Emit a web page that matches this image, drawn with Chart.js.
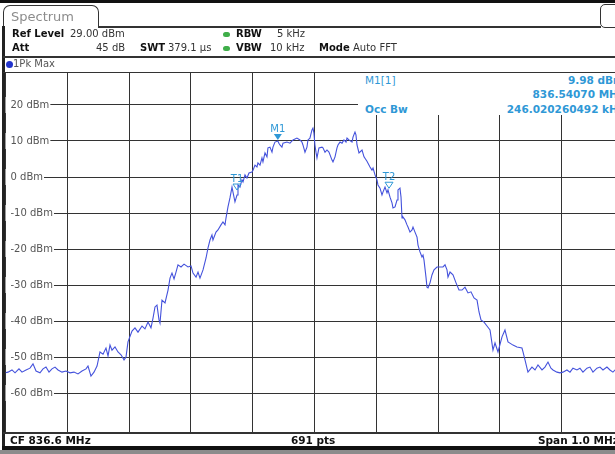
<!DOCTYPE html>
<html>
<head>
<meta charset="utf-8">
<title>Spectrum</title>
<script src="https://cdn.jsdelivr.net/npm/chart.js@4.4.1/dist/chart.umd.min.js"></script>
<style>
  body { margin: 0; overflow: hidden; background: #fff; font-family: "DejaVu Sans", sans-serif; }
  #screen { position: relative; width: 630px; height: 454px; }
  #spectrumChart { position: absolute; left: 0; top: 0; }
  .abs { position: absolute; white-space: nowrap; }
  .txt { font-size: 10px; color: #333; line-height: 12px; }
  .b { font-weight: bold; color: #111; }
  .dot { position: absolute; width: 7px; height: 5px; border-radius: 3px; background: #3fae49; }
  .cy { color: #2f98d6; font-size: 10.5px; line-height: 12px; font-weight: bold; }
</style>
</head>
<body>
<div id="screen">
  <canvas id="spectrumChart"></canvas>

  <!-- window frame -->
  <div class="abs" style="left:0;top:0;width:630px;height:3px;background:#111"></div>
  <div class="abs" style="left:3px;top:5px;width:94px;height:22px;border:1.5px solid #333;border-bottom:none;border-radius:7px 7px 0 0;background:#fff"></div>
  <div class="abs" style="left:11px;top:9px;font-size:13px;color:#8c8c8c">Spectrum</div>
  <div class="abs" style="left:98px;top:26px;width:503px;height:1.5px;background:#333"></div>
  <div class="abs" style="left:600px;top:4px;width:24px;height:22px;border:1.5px solid #333;border-radius:5px;background:#fff"></div>
  <div class="abs" style="left:2px;top:26px;width:2.5px;height:422px;background:#222"></div>

  <!-- settings -->
  <div class="abs txt b" style="left:12px;top:28px">Ref Level</div>
  <div class="abs txt" style="left:70px;top:28px">29.00 dBm</div>
  <div class="dot" style="left:223px;top:32px"></div>
  <div class="abs txt b" style="left:236px;top:28px">RBW</div>
  <div class="abs txt" style="left:277px;top:28px">5 kHz</div>

  <div class="abs txt b" style="left:12px;top:42px">Att</div>
  <div class="abs txt" style="left:96px;top:42px">45 dB</div>
  <div class="abs txt b" style="left:140px;top:42px">SWT</div>
  <div class="abs txt" style="left:168px;top:42px">379.1 µs</div>
  <div class="dot" style="left:223px;top:46px"></div>
  <div class="abs txt b" style="left:236px;top:42px">VBW</div>
  <div class="abs txt" style="left:270px;top:42px">10 kHz</div>
  <div class="abs txt b" style="left:319px;top:42px">Mode</div>
  <div class="abs txt" style="left:353px;top:42px">Auto FFT</div>

  <div class="abs" style="left:3px;top:56px;width:627px;height:1.5px;background:#333"></div>
  <div class="abs" style="left:6px;top:61px;width:7px;height:7px;border-radius:4px;background:#2233cc"></div>
  <div class="abs" style="left:13px;top:58px;font-size:10px;line-height:12px;color:#555">1Pk Max</div>
  <div class="abs" style="left:3px;top:72px;width:627px;height:1px;background:#333"></div>

  <!-- marker readout -->
  <div class="abs" style="left:358px;top:73px;width:272px;height:42px;background:#fff"></div>
  <div class="abs cy" style="left:365px;top:74px;font-weight:normal">M1[1]</div>
  <div class="abs cy" style="right:6px;top:74px">9.98 dBm</div>
  <div class="abs cy" style="right:6px;top:88px">836.54070 MHz</div>
  <div class="abs cy" style="left:365px;top:103px">Occ Bw</div>
  <div class="abs cy" style="right:6px;top:103px">246.020260492 kHz</div>

  <!-- footer -->
  <div class="abs" style="left:3px;top:432px;width:627px;height:1.5px;background:#333"></div>
  <div class="abs txt b" style="left:10px;top:434px;font-size:10.5px">CF 836.6 MHz</div>
  <div class="abs txt b" style="left:291px;top:434px;font-size:10.5px">691 pts</div>
  <div class="abs txt b" style="left:538px;top:434px;font-size:10.5px">Span 1.0 MHz</div>
  <div class="abs" style="left:2px;top:446px;width:628px;height:4px;background:#111"></div>
  <div class="abs" style="left:0;top:450px;width:630px;height:4px;background:#8c8c8c"></div>
</div>

<script>
// trace: frequency offset from CF (kHz) and peak level (dBm)
const freqOffsetKHz = [
  -500.0, -496.0, -489.5, -484.6, -478.2, -473.3, -466.8, -460.4, -455.5, -450.6,
  -444.2, -439.3, -434.5, -429.6, -424.8, -419.9, -415.0, -408.6, -402.1, -395.6,
  -389.2, -382.7, -376.2, -369.7, -366.5, -361.7, -356.8, -351.9, -347.1, -342.2,
  -337.4, -334.1, -330.9, -327.7, -322.8, -318.0, -313.1, -308.2, -305.0, -301.8,
  -295.3, -290.5, -285.6, -279.1, -274.3, -269.4, -264.6, -261.3, -258.1, -254.9,
  -251.6, -250.0, -246.8, -241.9, -237.0, -233.8, -230.6, -227.3, -224.1, -220.9,
  -216.0, -211.1, -204.7, -199.8, -196.6, -191.7, -188.5, -185.3, -180.4, -175.5,
  -172.3, -169.1, -165.9, -164.3, -159.4, -156.2, -151.3, -148.1, -144.8, -143.2,
  -140.0, -136.8, -133.5, -131.9, -128.7, -125.4, -123.8, -120.6, -117.4, -115.7,
  -112.5, -109.3, -106.0, -101.2, -99.5, -96.3, -93.1, -91.5, -88.2, -85.0,
  -83.4, -80.1, -76.9, -75.3, -72.1, -68.8, -67.2, -64.0, -59.3, -57.6,
  -55.9, -52.7, -51.0, -44.6, -39.7, -34.8, -28.4, -23.5, -20.3, -18.7,
  -15.4, -12.2, -10.6, -7.4, -4.1, -2.5, -0.9, 0.7, 2.4, 4.0,
  7.2, 12.1, 13.7, 17.0, 20.2, 23.4, 28.3, 29.9, 33.2, 36.4,
  38.0, 41.3, 44.5, 47.7, 51.0, 52.6, 55.8, 60.7, 62.3, 65.5,
  67.1, 68.8, 72.0, 76.9, 80.1, 84.9, 89.8, 93.0, 94.7, 97.9,
  101.1, 102.7, 106.0, 109.2, 110.8, 114.1, 117.3, 118.9, 122.2, 125.4,
  127.0, 130.3, 133.5, 135.1, 138.3, 140.0, 141.6, 143.2, 146.4, 149.7,
  151.3, 154.5, 157.8, 159.4, 162.6, 165.9, 167.5, 170.7, 173.9, 175.6,
  177.2, 180.4, 182.0, 183.7, 186.9, 190.1, 193.4, 198.2, 203.1, 207.9,
  211.2, 214.4, 216.0, 219.3, 224.1, 229.0, 233.8, 238.7, 243.5, 248.4,
  253.2, 258.1, 263.0, 266.2, 269.4, 274.3, 279.1, 284.0, 288.8, 292.1,
  296.9, 303.4, 308.2, 313.1, 321.2, 327.6, 335.7, 337.4, 340.6, 343.8,
  345.4, 351.9, 356.8, 361.6, 368.1, 372.9, 377.8, 382.6, 385.9, 392.3,
  397.2, 402.0, 408.5, 413.4, 418.2, 424.7, 429.5, 434.4, 440.9, 445.7,
  450.6, 457.0, 461.9, 466.8, 473.2, 478.1, 482.9, 489.4, 494.2, 500.0
];
const levelDbm = [
  -54.4, -54.2, -53.6, -54.4, -53.3, -54.2, -53.6, -53.1, -51.9, -53.9,
  -54.4, -53.3, -52.8, -54.2, -53.3, -52.8, -53.6, -54.2, -53.9, -54.4,
  -54.2, -54.7, -53.9, -53.3, -52.5, -55.3, -54.2, -52.5, -48.6, -49.2,
  -47.5, -49.7, -46.7, -48.1, -47.2, -48.6, -49.4, -50.8, -50.0, -45.8,
  -42.8, -41.9, -43.1, -41.4, -42.2, -40.3, -41.9, -39.2, -36.1, -35.6,
  -39.7, -40.6, -34.2, -35.0, -31.4, -28.1, -26.7, -28.3, -26.4, -24.4,
  -25.0, -24.2, -25.0, -24.7, -26.7, -27.8, -26.4, -28.1, -25.8, -22.5,
  -19.7, -17.5, -16.1, -17.5, -15.3, -14.7, -13.3, -12.5, -13.3, -11.4,
  -8.3, -5.8, -2.8, -4.2, -6.9, -5.0, -2.2, -2.8, -0.8, -1.4,
  0.6, -0.3, 1.1, 1.4, 1.9, 3.3, 2.8, 3.9, 3.3, 5.3,
  4.2, 6.7, 5.6, 8.1, 8.3, 6.9, 8.3, 9.7, 9.98, 9.4,
  8.9, 8.3, 9.4, 9.7, 9.4, 10.3, 10.8, 10.3, 9.7, 8.9,
  6.9, 8.3, 10.3, 10.8, 13.1, 13.6, 12.2, 8.9, 6.9, 5.3,
  8.1, 8.3, 8.1, 6.9, 7.5, 6.9, 4.7, 4.2, 5.6, 8.1,
  8.9, 9.7, 9.4, 10.3, 9.7, 10.8, 10.3, 9.7, 11.1, 12.5,
  11.7, 8.9, 6.7, 7.5, 5.6, 4.4, 2.8, 1.9, 2.5, 0.6,
  -0.8, -2.2, -3.1, -5.0, -4.2, -2.8, -4.4, -3.6, -5.6, -7.2,
  -8.6, -8.3, -6.4, -3.6, -3.1, -5.6, -11.4, -11.1, -11.9, -13.3,
  -13.9, -15.3, -14.7, -13.9, -15.3, -16.7, -18.9, -20.8, -22.2, -21.7,
  -23.1, -27.8, -30.6, -30.8, -29.4, -27.2, -25.8, -25.0, -25.0, -25.0,
  -24.4, -25.8, -27.8, -26.4, -27.2, -29.4, -31.4, -31.4, -30.6, -32.2,
  -31.9, -33.6, -34.2, -37.5, -39.7, -40.3, -41.4, -42.5, -48.1, -46.1,
  -48.6, -44.4, -42.5, -45.8, -46.7, -47.2, -47.5, -48.6, -50.8, -53.1,
  -54.2, -52.8, -53.6, -52.2, -53.6, -52.8, -51.4, -53.1, -53.6, -54.2,
  -54.4, -54.2, -53.6, -54.2, -53.1, -53.6, -53.1, -54.2, -53.1, -52.8,
  -54.2, -53.1, -52.8, -53.6, -52.8, -53.6, -54.2, -53.1, -53.6, -53.3
];

// level grid (dBm) with labels
const levelTicks = [20, 10, 0, -10, -20, -30, -40, -50, -60];

// markers: M1 peak readout, T1/T2 occupied bandwidth edges
const markerNames = ['M1', 'T1', 'T2'];
const markerFreqKHz = [-59.3, -125.4, 120.6];
const markerLevelDbm = [9.98, -3.9, -3.4];

const markerColor = '#2f98d6';

const markerPlugin = {
  id: 'markers',
  afterDatasetsDraw(chart) {
    const ctx = chart.ctx;
    const x = chart.scales.x;
    const y = chart.scales.y;
    ctx.save();
    ctx.font = '10px "DejaVu Sans"';
    ctx.textAlign = 'center';
    ctx.textBaseline = 'bottom';
    markerNames.forEach((name, i) => {
      const px = x.getPixelForValue(markerFreqKHz[i]);
      const py = y.getPixelForValue(markerLevelDbm[i]) - 1;
      ctx.beginPath();
      ctx.moveTo(px, py);
      ctx.lineTo(px - 4, py - 6);
      ctx.lineTo(px + 4, py - 6);
      ctx.closePath();
      if (name === 'M1') {
        ctx.fillStyle = markerColor;
        ctx.fill();
      } else {
        ctx.strokeStyle = markerColor;
        ctx.lineWidth = 1;
        ctx.stroke();
      }
      ctx.fillStyle = markerColor;
      ctx.fillText(name, px, py - 6);
    });
    ctx.restore();
  }
};

const canvas = document.getElementById('spectrumChart');
canvas.style.width = '630px';
canvas.style.height = '454px';

const spectrumChart = new Chart(canvas.getContext('2d'), {
  type: 'line',
  data: {
    datasets: [{
      label: '1Pk Max',
      data: freqOffsetKHz.map((f, i) => ({ x: f, y: levelDbm[i] })),
      borderColor: '#4452dc',
      borderWidth: 1.1,
      pointRadius: 0,
      tension: 0,
      fill: false
    }]
  },
  options: {
    responsive: false,
    animation: false,
    layout: {
      padding: { left: 5.5, top: 72.6, right: 6.5, bottom: 21.4 }
    },
    plugins: {
      legend: { display: false },
      tooltip: { enabled: false }
    },
    scales: {
      x: {
        type: 'linear',
        min: -500,
        max: 500,
        border: { display: false },
        grid: { color: '#333', lineWidth: 1, drawTicks: false },
        ticks: { display: false, stepSize: 100 }
      },
      y: {
        min: -71,
        max: 29,
        border: { display: false },
        grid: { color: '#333', lineWidth: 1, drawTicks: false },
        afterBuildTicks: (scale) => {
          scale.ticks = levelTicks.map(v => ({ value: v }));
        },
        // labels sit inside the plot, so the axis takes no width
        afterFit: (scale) => {
          scale.width = 0;
        },
        ticks: {
          mirror: true,
          padding: 5,
          color: '#555',
          font: { family: 'DejaVu Sans', size: 10 },
          showLabelBackdrop: true,
          backdropColor: '#fff',
          backdropPadding: { left: 5, right: 1, top: 2, bottom: 2 },
          callback: (v) => v + ' dBm'
        }
      }
    }
  },
  plugins: [markerPlugin]
});
</script>
</body>
</html>
